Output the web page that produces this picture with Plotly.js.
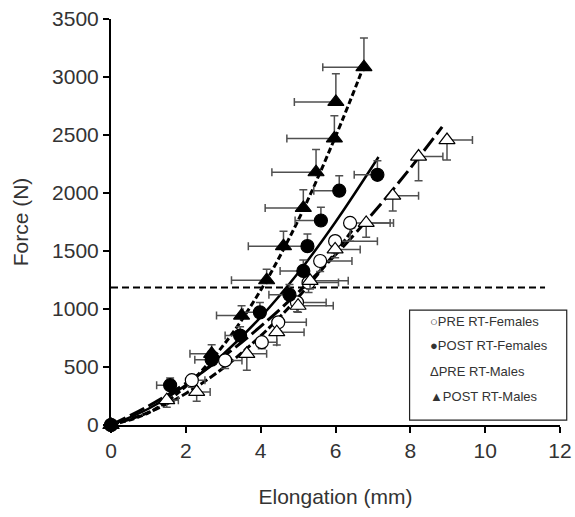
<!DOCTYPE html>
<html>
<head>
<meta charset="utf-8">
<script src="https://cdn.plot.ly/plotly-3.0.1.min.js"></script>
<style>html,body{margin:0;padding:0;background:#fff;}#chart{width:575px;height:517px;}</style>
</head>
<body>
<div id="chart"></div>
<script>
// ---- Data ----
// PRE RT-Females (open circles): error to the right (x) and downward (y)
var preF_x   = [0, 2.16, 3.05, 4.03, 4.47, 4.97, 5.28, 5.59, 5.99, 6.39];
var preF_y   = [0, 386, 557, 714, 885, 1057, 1228, 1414, 1585, 1742];
var preF_ex  = [0, 0.35, 0.45, 0.40, 0.75, 0.78, 0.80, 0.85, 1.13, 1.07];
var preF_ey  = [0, 60, 70, 57, 75, 80, 85, 90, 100, 157];

// POST RT-Females (filled circles): error to the left (x) and upward (y)
var postF_x  = [0, 1.58, 2.69, 3.45, 3.98, 4.77, 5.14, 5.25, 5.61, 6.10, 7.12];
var postF_y  = [0, 343, 563, 771, 971, 1122, 1328, 1542, 1763, 2020, 2157];
var postF_ex = [0, 0.36, 0.45, 0.40, 0.45, 0.55, 0.62, 0.60, 0.69, 0.68, 0.62];
var postF_ey = [0, 63, 70, 75, 86, 90, 95, 105, 114, 129, 120];

// PRE RT-Males (open triangles): error to the right (x) and downward (y)
var preM_x   = [0, 1.49, 2.29, 3.63, 4.43, 5.00, 5.32, 5.99, 6.82, 7.53, 8.22, 8.98];
var preM_y   = [0, 214, 285, 614, 800, 1028, 1243, 1514, 1742, 1977, 2314, 2456];
var preM_ex  = [0, 0.31, 0.36, 0.53, 0.73, 0.94, 1.02, 0.67, 0.73, 0.69, 0.65, 0.68];
var preM_ey  = [0, 60, 80, 143, 110, 57, 70, 72, 123, 133, 208, 171];

// POST RT-Males (filled triangles): error to the left (x) and upward (y)
var postM_x  = [0, 2.69, 3.49, 4.16, 4.61, 5.14, 5.48, 5.97, 6.01, 6.76];
var postM_y  = [0, 614, 943, 1248, 1542, 1871, 2179, 2470, 2785, 3085];
var postM_ex = [0, 0.58, 0.67, 0.94, 0.94, 1.02, 1.18, 1.27, 1.11, 1.10];
var postM_ey = [0, 77, 86, 94, 129, 157, 197, 197, 243, 251];

// Trend curves
var fitPreF_x  = [0, 1, 2, 3, 4, 5, 6, 6.5];
var fitPreF_y  = [0, 108, 272, 492, 768, 1100, 1488, 1703];
var fitPostF_x = [0, 1, 2, 3, 4, 5, 6, 7.15];
var fitPostF_y = [0, 140, 345, 610, 930, 1310, 1750, 2310];
var fitPreM_x  = [0, 1, 2, 3, 4, 5, 6, 7, 8, 8.85];
var fitPreM_y  = [0, 164, 360, 589, 850, 1143, 1467, 1825, 2214, 2570];
var fitPostM_x = [0, 1, 2, 3, 4, 5, 6, 6.8];
var fitPostM_y = [0, 105, 334, 686, 1162, 1763, 2486, 3130];

// Horizontal reference line
var refLine_x = [0, 11.6];
var refLine_y = [1185, 1185];

var legendLabels = ["\u25CBPRE RT-Females", "\u25CFPOST RT-Females", "\u0394PRE RT-Males", "\u25B2POST RT-Males"];

var zeros = function(a){ return a.map(function(){ return 0; }); };
var errCol = '#505050';

function lineTrace(x, y, dash, w){
  return {x:x, y:y, type:'scatter', mode:'lines', showlegend:false, hoverinfo:'skip',
    line:{color:'#000', width:w, dash:dash, shape:'spline'}, cliponaxis:false};
}
function markerTrace(x, y, ex, ey, side, symbol, filled){
  var t = {x:x, y:y, type:'scatter', mode:'markers', showlegend:false, cliponaxis:false,
    marker:{symbol:symbol, size: symbol.indexOf('triangle')===0 ? 14 : 13,
      color: filled ? '#000' : '#fff', line:{color:'#000', width:1.2}}};
  if (side === 'neg') {
    t.error_x = {type:'data', symmetric:false, array:zeros(ex), arrayminus:ex, color:errCol, thickness:1.5, width:4};
    t.error_y = {type:'data', symmetric:false, array:ey, arrayminus:zeros(ey), color:errCol, thickness:1.5, width:4};
  } else {
    t.error_x = {type:'data', symmetric:false, array:ex, arrayminus:zeros(ex), color:errCol, thickness:1.5, width:4};
    t.error_y = {type:'data', symmetric:false, array:zeros(ey), arrayminus:ey, color:errCol, thickness:1.5, width:4};
  }
  return t;
}

var data = [
  lineTrace(refLine_x, refLine_y, '7px,4px', 2),
  lineTrace(fitPreF_x, fitPreF_y, '8px,3px', 3),
  lineTrace(fitPreM_x, fitPreM_y, '16px,5px', 3),
  lineTrace(fitPostF_x, fitPostF_y, 'solid', 2.5),
  lineTrace(fitPostM_x, fitPostM_y, '6px,3px', 3),
  markerTrace(preF_x, preF_y, preF_ex, preF_ey, 'pos', 'circle', false),
  markerTrace(preM_x, preM_y, preM_ex, preM_ey, 'pos', 'triangle-up', false),
  markerTrace(postF_x, postF_y, postF_ex, postF_ey, 'neg', 'circle', true),
  markerTrace(postM_x, postM_y, postM_ex, postM_ey, 'neg', 'triangle-up', true)
];

var fontFam = 'Liberation Sans, Arial, sans-serif';
var legendYs = [0.255, 0.195, 0.132, 0.070];
var annotations = legendLabels.map(function(s, i){
  return {xref:'paper', yref:'paper', x:0.705, y:legendYs[i], xanchor:'left', yanchor:'middle',
    text:s, showarrow:false, font:{family:fontFam, size:13, color:'#333'}};
});

var layout = {
  width:575, height:517,
  margin:{l:111, r:15, t:19, b:92},
  paper_bgcolor:'#fff', plot_bgcolor:'#fff',
  showlegend:false,
  font:{family:fontFam, color:'#333'},
  xaxis:{range:[0,12], tickvals:[0,2,4,6,8,10,12], ticks:'outside', ticklen:6, tickwidth:2, tickcolor:'#000',
    showline:true, linecolor:'#000', linewidth:2, showgrid:false, zeroline:false,
    tickfont:{size:21, family:fontFam, color:'#333'},
    title:{text:'Elongation (mm)', font:{size:21, family:fontFam, color:'#333'}, standoff:28}},
  yaxis:{range:[0,3500], tickvals:[0,500,1000,1500,2000,2500,3000,3500], ticks:'outside', ticklen:6, tickwidth:2, tickcolor:'#000',
    showline:true, linecolor:'#000', linewidth:2, showgrid:false, zeroline:false,
    tickfont:{size:21, family:fontFam, color:'#333'},
    title:{text:'Force (N)', font:{size:21, family:fontFam, color:'#333'}, standoff:18}},
  shapes:[{type:'rect', xref:'paper', yref:'paper', x0:0.665, x1:1.015, y0:0.012, y1:0.283,
    line:{color:'#222', width:1.2}, fillcolor:'rgba(255,255,255,1)', layer:'above'}],
  annotations:annotations
};

Plotly.newPlot('chart', data, layout, {displayModeBar:false, staticPlot:true});
</script>
</body>
</html>
